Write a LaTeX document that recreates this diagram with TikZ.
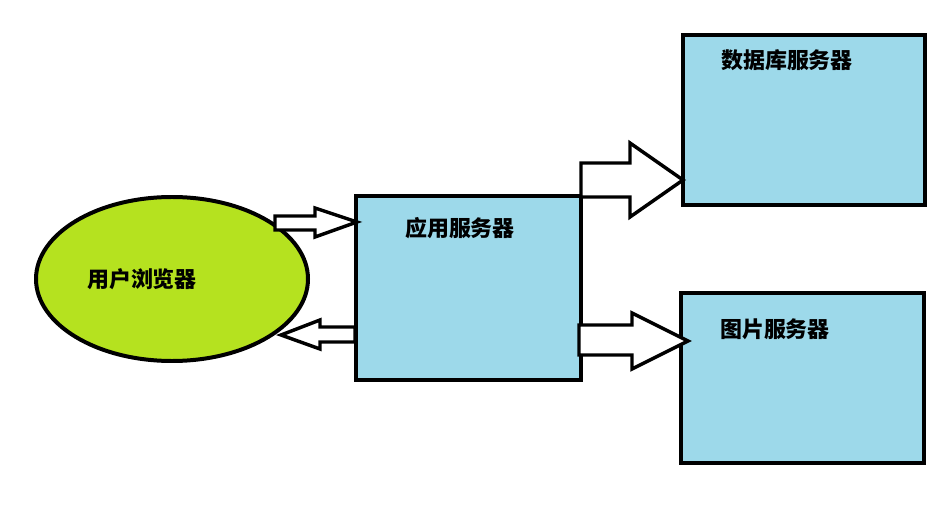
\documentclass[tikz,border=0pt]{standalone}
\usepackage{fontspec}
\usetikzlibrary{shapes.geometric}
\newfontfamily\cjk{Noto Sans CJK SC}
\definecolor{boxblue}{HTML}{9DD9EA}
\definecolor{lime}{HTML}{B5E21F}
\begin{document}
\begin{tikzpicture}[x=0.0264cm,y=-0.0264cm,
  bx/.style={draw=black,line width=3pt,fill=boxblue},
  lbl/.style={font=\cjk\bfseries\fontsize{16.5pt}{19pt}\selectfont},
  blk/.style={draw=black,line width=2.6pt,fill=white,line join=miter}]
\useasboundingbox (0,0) rectangle (950,526);
\fill[lime,draw=black,line width=3pt] (172,279) ellipse [x radius=136, y radius=82];
\draw[bx] (356,196) rectangle (581,380);
\draw[bx] (683,35) rectangle (925,205);
\draw[bx] (681,293) rectangle (924,463);
\node[lbl] (t1) at (142,279) {用户浏览器};
\node[lbl] (t2) at (460,228) {应用服务器};
\node[lbl] (t3) at (787,60) {数据库服务器};
\node[lbl] (t4) at (775,329) {图片服务器};
% arrows
\draw[blk] (275,216) -- (315,216) -- (315,208) -- (357,222) -- (315,237) -- (315,230) -- (275,230) -- cycle;
\draw[blk] (355,327) -- (320,327) -- (320,320) -- (281,335) -- (320,349) -- (320,342) -- (355,342) -- cycle;
\draw[blk] (581,163) -- (630,163) -- (630,143) -- (683,180) -- (630,217) -- (630,197) -- (581,197) -- cycle;
\draw[blk] (579,325) -- (632,325) -- (632,313) -- (688,341) -- (632,369) -- (632,355) -- (579,355) -- cycle;
\end{tikzpicture}
\end{document}
